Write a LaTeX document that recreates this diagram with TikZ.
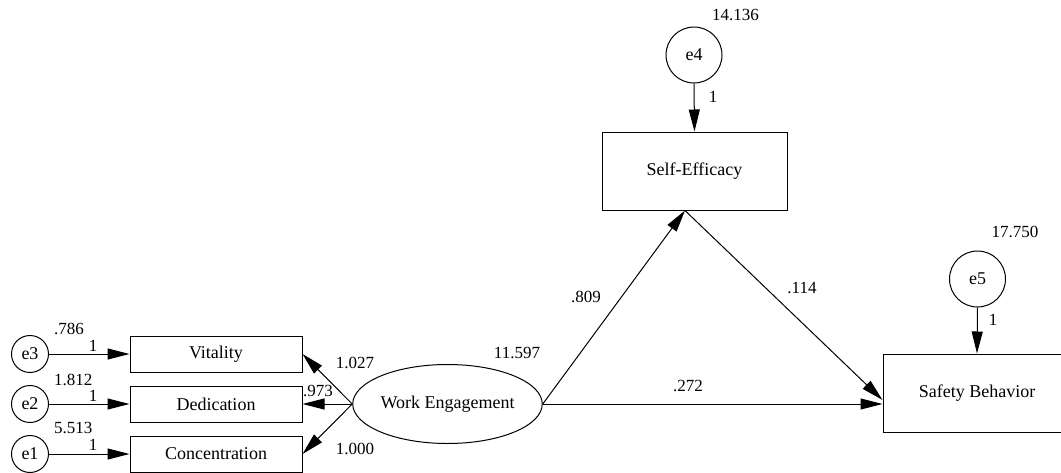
\documentclass[tikz,border=0pt]{standalone}
\usepackage{fontspec}
\setmainfont{Liberation Serif}
\usetikzlibrary{arrows.meta,shapes.geometric}
\begin{document}
\begin{tikzpicture}[x=1pt,y=-1pt,
  every node/.style={font=\fontsize{18}{20}\selectfont},
  obsbox/.style={draw,line width=1pt,rectangle,inner sep=0pt},
  errc/.style={draw,line width=1pt,circle,inner sep=0pt},
  latent/.style={draw,line width=1pt,ellipse,inner sep=0pt,minimum width=183pt,minimum height=79pt},
  num/.style={inner sep=0pt,font=\fontsize{17}{19}\selectfont},
  path/.style={line width=1pt,-{Triangle[length=22pt,width=11pt]}},
  plain/.style={line width=1pt}]
\useasboundingbox (0,0) rectangle (1061,472);
\clip (0,0) rectangle (1061,472);
% error terms
\node[errc,minimum size=37pt] (e3) at (30,354) {e3};
\node[errc,minimum size=37pt] (e2) at (30,404) {e2};
\node[errc,minimum size=37pt] (e1) at (30,454) {e1};
\node[errc,minimum size=56pt] (e4) at (694,55) {e4};
\node[errc,minimum size=56pt] (e5) at (977.5,279) {e5};
% observed
\node[obsbox,minimum width=172pt,minimum height=36pt] (vit) at (216,354) {Vitality};
\node[obsbox,minimum width=172pt,minimum height=36pt] (ded) at (216,404) {Dedication};
\node[obsbox,minimum width=172pt,minimum height=36pt] (con) at (216,454) {Concentration};
\node[obsbox,minimum width=185pt,minimum height=78pt] (se) at (694.5,171) {Self-Efficacy};
\node[obsbox,minimum width=188pt,minimum height=78pt] (sb) at (977,393) {Safety Behavior};
% latent
\node[latent] (we) at (447.5,404) {Work Engagement};
% connectors
\draw[path] (e3.east) -- (vit.west);
\draw[path] (e2.east) -- (ded.west);
\draw[path] (e1.east) -- (con.west);
\draw[path] (we.west) -- (vit.east);
\draw[path] (we.west) -- (ded.east);
\draw[path] (we.west) -- (con.east);
\coordinate (sep) at ([xshift=-9.5pt]se.south);
\coordinate (sbin) at ([yshift=-7pt]sb.west);
\draw[path] (we.east) -- (sep);
\draw[path] (sep) -- (sbin);
\draw[path] (we.east) -- (we.east -| sb.west);
\draw[path] (e4.south) -- (se.north);
\draw[path] (e5.south) -- (sb.north);
% labels
\node[num,anchor=west] (v3) at (54,329) {.786};
\node[num,anchor=west] (v2) at (54,380) {1.812};
\node[num,anchor=west] (v1) at (54,428) {5.513};
\node[num] (w3) at (93,346) {1};
\node[num] (w2) at (93,396) {1};
\node[num] (w1) at (93,445) {1};
\node[num] (lvit) at (355,363) {1.027};
\node[num] (lded) at (318,391) {.973};
\node[num] (lcon) at (355,449) {1.000};
\node[num] (vwe) at (517,353) {11.597};
\node[num] (lse) at (586,297) {.809};
\node[num] (lsesb) at (802,288) {.114};
\node[num] (lwesb) at (688,386) {.272};
\node[num] (v4) at (735.5,15) {14.136};
\node[num] (w4) at (713,97) {1};
\node[num] (v5) at (1015,232) {17.750};
\node[num] (w5) at (993,320) {1};
\end{tikzpicture}
\end{document}
